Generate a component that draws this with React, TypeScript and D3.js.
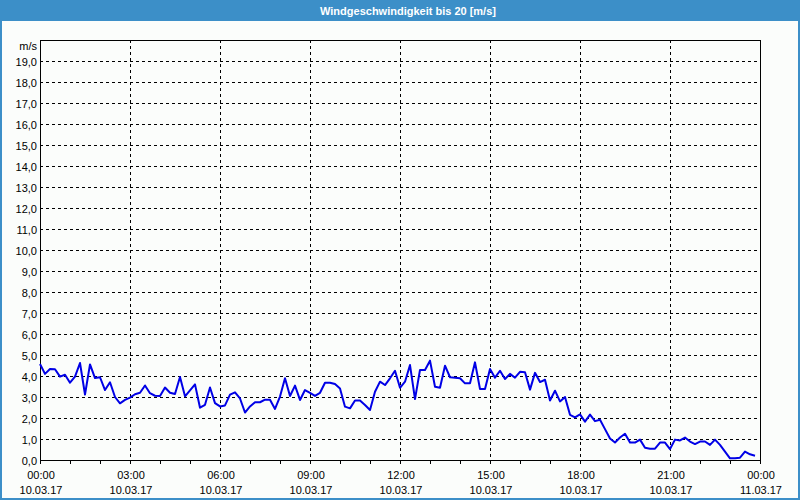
import React from "react";
import * as d3 from "d3";

const title = "Windgeschwindigkeit bis 20 [m/s]";
const unitLabel = "m/s";
const startTime = "2017-03-10T00:00:00";
const stepMinutes = 10;
const windSpeed = [
  4.57, 4.1, 4.33, 4.32, 3.97, 4.06, 3.68, 3.97, 4.62, 3.12, 4.55, 3.9, 3.94, 3.33, 3.7, 3.0,
  2.7, 2.86, 2.97, 3.13, 3.2, 3.55, 3.18, 3.06, 3.05, 3.45, 3.2, 3.14, 3.95, 3.03, 3.32, 3.6,
  2.49, 2.63, 3.45, 2.71, 2.55, 2.6, 3.11, 3.22, 2.93, 2.26, 2.55, 2.75, 2.75, 2.87, 2.87, 2.43,
  3.02, 3.89, 3.05, 3.54, 2.86, 3.33, 3.2, 3.05, 3.2, 3.68, 3.68, 3.62, 3.41, 2.54, 2.46, 2.83,
  2.83, 2.62, 2.38, 3.25, 3.73, 3.57, 3.89, 4.25, 3.44, 3.73, 4.52, 2.9, 4.29, 4.29, 4.73, 3.49,
  3.44, 4.49, 3.94, 3.92, 3.89, 3.65, 3.65, 4.65, 3.38, 3.38, 4.33, 3.92, 4.25, 3.86, 4.1, 3.92,
  4.2, 4.18, 3.35, 4.15, 3.71, 3.82, 2.83, 3.3, 2.79, 3.0, 2.15, 2.03, 2.17, 1.83, 2.16, 1.85,
  1.92, 1.47, 1.02, 0.83, 1.07, 1.25, 0.83, 0.83, 0.97, 0.58, 0.54, 0.54, 0.83, 0.83, 0.52, 0.97,
  0.93, 1.07, 0.88, 0.76, 0.88, 0.88, 0.72, 0.97, 0.72, 0.4, 0.08, 0.08, 0.11, 0.4, 0.27, 0.2,
];
const yTicks = [0, 1, 2, 3, 4, 5, 6, 7, 8, 9, 10, 11, 12, 13, 14, 15, 16, 17, 18, 19];
const xDomain = ["2017-03-10T00:00:00", "2017-03-11T00:00:00"];

const W = 800;
const H = 500;
const M = { left: 40, right: 760, top: 40, bottom: 460 };
const FONT = "'Liberation Sans', Arial, sans-serif";
const BLUE = "#3c8fc8";

export default function App() {
  const t0 = new Date(startTime);
  const data = windSpeed.map((v, i) => ({ t: d3.timeMinute.offset(t0, i * stepMinutes), v }));
  const x = d3.scaleTime().domain(xDomain.map((d) => new Date(d))).range([M.left, M.right]);
  const y = d3.scaleLinear().domain([0, 20]).range([M.bottom, M.top]);
  const majorTicks = x.ticks(d3.timeHour.every(3)!);
  const minorTicks = x.ticks(d3.timeHour.every(1)!);
  const line = d3.line<{ t: Date; v: number }>().x((d) => x(d.t)).y((d) => y(d.v));
  const fmtTime = d3.timeFormat("%H:%M");
  const fmtDate = d3.timeFormat("%d.%m.%y");
  const fmtY = (v: number) => v.toFixed(1).replace(".", ",");

  return (
    <svg width={W} height={H} style={{ position: "absolute", left: 0, top: 0, background: "#fbfdfb" }} fontFamily={FONT}>
      <rect x={0} y={0} width={W} height={H} fill="#fbfdfb" />
      <rect x={0} y={0} width={W} height={21} fill={BLUE} />
      <rect x={0.5} y={0.5} width={W - 1} height={H - 1} fill="none" stroke={BLUE} strokeWidth={1} />
      <rect x={1.5} y={0.5} width={W - 3} height={H - 2} fill="none" stroke={BLUE} strokeWidth={1} />
      <text x={408} y={15} textAnchor="middle" fill="#ffffff" fontSize={11} fontWeight="bold">
        {title}
      </text>
      {/* horizontal grid */}
      {yTicks.filter((v) => v > 0).map((v) => (
        <line key={"gy" + v} x1={M.left} x2={M.right} y1={Math.round(y(v)) + 0.5} y2={Math.round(y(v)) + 0.5}
          stroke="#000" strokeWidth={1} strokeDasharray="3,3" />
      ))}
      {/* vertical grid */}
      {majorTicks.filter((d, i) => i > 0 && i < majorTicks.length - 1).map((d) => (
        <line key={"gx" + d.getTime()} x1={Math.round(x(d)) + 0.5} x2={Math.round(x(d)) + 0.5} y1={M.top} y2={M.bottom}
          stroke="#000" strokeWidth={1} strokeDasharray="3,3" />
      ))}
      {/* minor ticks */}
      {minorTicks.map((d) => (
        <line key={"mt" + d.getTime()} x1={Math.round(x(d)) + 0.5} x2={Math.round(x(d)) + 0.5} y1={M.bottom} y2={M.bottom + 4}
          stroke="#000" strokeWidth={1} />
      ))}
      {/* frame */}
      <rect x={M.left + 0.5} y={M.top + 0.5} width={M.right - M.left} height={M.bottom - M.top} fill="none" stroke="#000" strokeWidth={1} />
      {/* y labels */}
      {yTicks.map((v) => (
        <text key={"yl" + v} x={37} y={y(v) + 5} textAnchor="end" fontSize={11} fill="#000">
          {fmtY(v)}
        </text>
      ))}
      <text x={37} y={50} textAnchor="end" fontSize={11} fill="#000">{unitLabel}</text>
      {/* x labels */}
      {majorTicks.map((d) => (
        <g key={"xl" + d.getTime()}>
          <text x={x(d) + 1} y={479} textAnchor="middle" fontSize={11} fill="#000">{fmtTime(d)}</text>
          <text x={x(d) + 1} y={494} textAnchor="middle" fontSize={11} fill="#000">{fmtDate(d)}</text>
        </g>
      ))}
      <path d={line(data) || ""} fill="none" stroke="#0000e6" strokeWidth={2} strokeLinejoin="round" />
    </svg>
  );
}
